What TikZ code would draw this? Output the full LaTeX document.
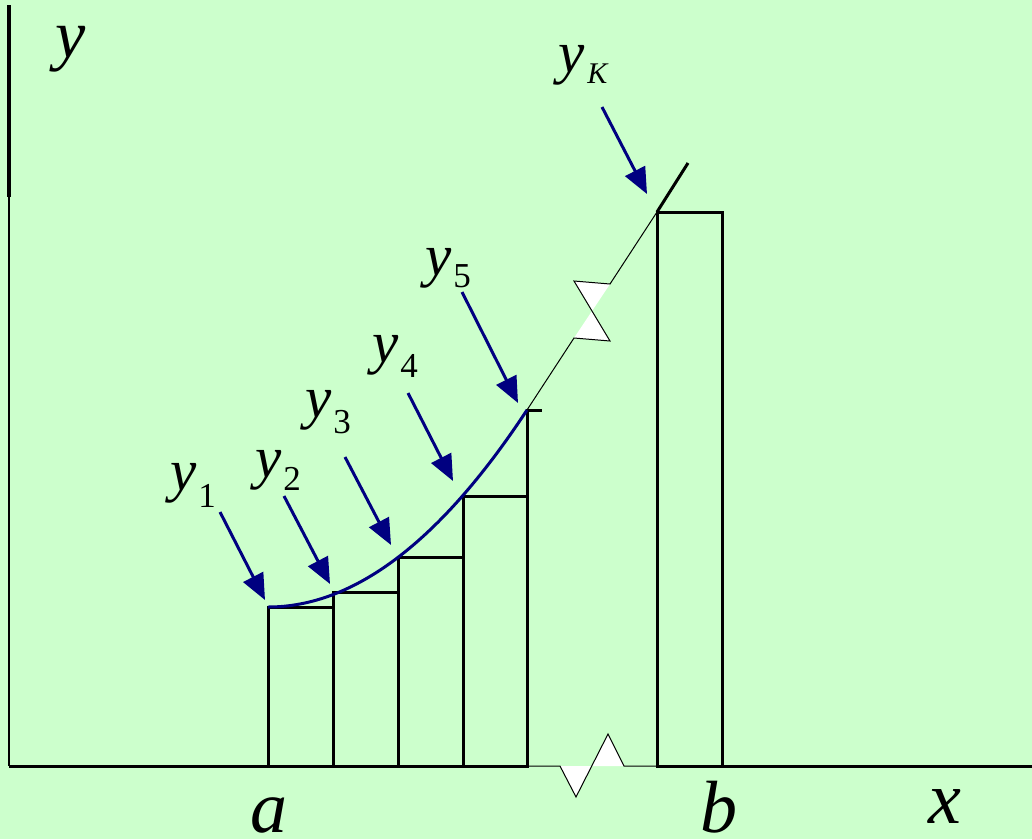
\documentclass[tikz,border=0pt]{standalone}
\usepackage{fontspec}
\setmainfont{Liberation Serif}
\usetikzlibrary{arrows.meta}
\definecolor{bgc}{HTML}{CCFFCC}
\definecolor{navyc}{HTML}{000080}
\newcommand\ylab[2]{{\fontsize{59}{59}\selectfont\itshape y}\kern2pt\raisebox{-#2pt}{\fontsize{35}{35}\selectfont #1}}
\begin{document}
\begin{tikzpicture}[x=1pt,y=-1pt,
  thinline/.style={line width=1pt},
  barbox/.style={draw,line width=3pt},
  pointer/.style={navyc,line width=3pt,-{Triangle[length=26pt,width=22pt]}},
  lab/.style={inner sep=0pt,anchor=base west},
  axlab/.style={inner sep=0pt,anchor=base west,font=\fontsize{74}{74}\selectfont\itshape}]
\useasboundingbox (0,0) rectangle (1032,839);
\fill[bgc] (0,0) rectangle (1032,839);
% axes
\draw[line width=3.2pt] (9,5) -- (9,197);
\draw[line width=2.8pt] (9,197) -- (9,766);
\draw[line width=3pt] (9,766) -- (527,766);
\draw[line width=3pt] (657,766) -- (1032,766);
% break on x axis
\fill[white] (560,766) -- (576,797) -- (608,734) -- (624,766) -- cycle;
\draw[thinline,line join=miter] (527,766) -- (560,766) -- (576,797) -- (608,734) -- (624,766) -- (657,766);
% rectangles
\draw[barbox] (268,766) rectangle (333,607);
\draw[barbox] (333,766) rectangle (398,592);
\draw[barbox] (398,766) rectangle (463,557);
\draw[barbox] (463,766) rectangle (527,496);
\draw[line width=3pt] (527,766) -- (527,410) -- (542,410);
\draw[barbox] (657,766) rectangle (722,212);
% curve
\draw[navyc,line width=3pt] (268,607) .. controls (354.3,607) and (440.7,541.3) .. (527,410);
% continuation with break
\fill[white] (574,338) -- (610,341) -- (574,281) -- (610,284) -- cycle;
\draw[thinline] (527,410) -- (574,338) -- (610,341) -- (574,281) -- (610,284) -- (657,212);
\draw[line width=3pt] (657,212) -- (688,163);
% arrows
\coordinate (s1) at (220,512); \coordinate (t1) at (265,600);
\coordinate (s2) at (284,496); \coordinate (t2) at (330,584);
\coordinate (s3) at (345,457); \coordinate (t3) at (391,545);
\coordinate (s4) at (408,393); \coordinate (t4) at (453,481);
\coordinate (s5) at (462,292); \coordinate (t5) at (518,403);
\coordinate (sK) at (602,107); \coordinate (tK) at (647,194);
\draw[pointer] (s1) -- (t1);
\draw[pointer] (s2) -- (t2);
\draw[pointer] (s3) -- (t3);
\draw[pointer] (s4) -- (t4);
\draw[pointer] (s5) -- (t5);
\draw[pointer] (sK) -- (tK);
% labels
\node[lab] (l1) at (170,490) {\ylab{1}{17}};
\node[lab] (l2) at (255,477) {\ylab{2}{13}};
\node[lab] (l3) at (305,417) {\ylab{3}{16}};
\node[lab] (l4) at (372,362) {\ylab{4}{15}};
\node[lab] (l5) at (425,275) {\ylab{5}{12}};
\node[lab] (lK) at (558,72) {{\fontsize{59}{59}\selectfont\itshape y}\kern3pt\raisebox{-11pt}{\fontsize{30}{30}\selectfont\itshape K}};
\node[axlab,font=\fontsize{68}{68}\selectfont\itshape] (ly) at (55,57) {y};
\node[axlab] (la) at (250,832) {a};
\node[axlab] (lb) at (700,832) {b};
\node[axlab] (lx) at (928,823) {x};
\end{tikzpicture}
\end{document}
